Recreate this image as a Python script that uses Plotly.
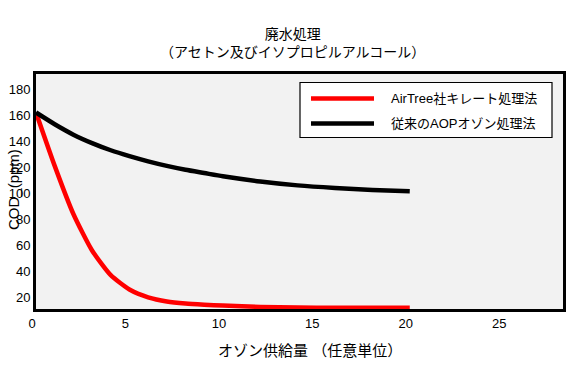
import plotly.graph_objects as go

# ---- data ----
ozone_red = [0, 1, 2, 3, 4, 5, 6, 7, 8, 9, 10, 12, 14, 16, 18, 20]
cod_red = [162, 121, 84, 56, 37, 26, 20, 16.8, 15.2, 14.3, 13.6, 12.6, 12.1, 12, 12, 12]

ozone_black = [0, 1, 2, 3, 4, 5, 6, 7, 8, 9, 10, 12, 14, 16, 18, 20]
cod_black = [162, 153, 145, 138.5, 133, 128.5, 124.5, 121, 118, 115.5, 113, 109, 106, 104, 102.5, 101.5]

name_red = "AirTree社キレート処理法"
name_black = "従来のAOPオゾン処理法"

x_ticks = [0, 5, 10, 15, 20, 25]
y_ticks = [20, 40, 60, 80, 100, 120, 140, 160, 180]

FONT = "Liberation Sans, Arial, Noto Sans CJK JP, sans-serif"

fig = go.Figure()
fig.add_trace(go.Scatter(x=ozone_red, y=cod_red, mode="lines", name=name_red,
                         line=dict(color="#ff0000", width=4.5, shape="spline", smoothing=0.6),
                         showlegend=False))
fig.add_trace(go.Scatter(x=ozone_black, y=cod_black, mode="lines", name=name_black,
                         line=dict(color="#000000", width=4.5, shape="spline", smoothing=0.6),
                         showlegend=False))

W, H = 577, 379
ml, mr, mt, mb = 36, 14, 74, 70
pw, ph = W - ml - mr, H - mt - mb

def px(x):
    return (x - ml) / pw

def py(y):
    return 1 - (y - mt) / ph

shapes = []
annotations = []

# legend box (custom, to match the long line samples)
shapes.append(dict(type="rect", xref="paper", yref="paper",
                   x0=px(300), x1=px(552), y0=py(137.5), y1=py(82.5),
                   line=dict(color="black", width=1.2), fillcolor="white", layer="above"))
for yy, col, nm in [(98.5, "#ff0000", name_red), (123.5, "#000000", name_black)]:
    shapes.append(dict(type="line", xref="paper", yref="paper",
                       x0=px(311), x1=px(374), y0=py(yy), y1=py(yy),
                       line=dict(color=col, width=4.5), layer="above"))
    annotations.append(dict(text=nm, xref="paper", yref="paper", x=px(389), y=py(yy),
                            xanchor="left", yanchor="middle", showarrow=False,
                            font=dict(size=13, color="black", family=FONT)))

# title
annotations.append(dict(text="廃水処理<br>（アセトン及びイソプロピルアルコール）",
                        xref="paper", yref="paper", x=px(292), y=py(43),
                        xanchor="center", yanchor="middle", showarrow=False,
                        font=dict(size=14, color="black", family=FONT)))
# axis titles
annotations.append(dict(text="オゾン供給量 （任意単位）", xref="paper", yref="paper",
                        x=px(310), y=py(350), xanchor="center", yanchor="middle",
                        showarrow=False, font=dict(size=15, color="black", family=FONT)))
annotations.append(dict(text="COD_(ppm)", xref="paper", yref="paper",
                        x=px(13), y=py(190), xanchor="center", yanchor="middle",
                        textangle=-90, showarrow=False,
                        font=dict(size=15, color="black", family=FONT)))

fig.update_layout(
    width=W, height=H,
    margin=dict(l=ml, r=mr, t=mt, b=mb, autoexpand=False),
    paper_bgcolor="white", plot_bgcolor="#f2f2f2",
    font=dict(family=FONT, size=13, color="black"),
    shapes=shapes, annotations=annotations, showlegend=False,
)
fig.update_xaxes(range=[0, 28.2], tickvals=x_ticks, ticktext=[str(v) for v in x_ticks],
                 showgrid=False, zeroline=False, showline=True, mirror=True,
                 linecolor="black", linewidth=3, ticks="", tickfont=dict(size=13),
                 ticklabelshift=-4)
fig.update_yaxes(range=[11, 191.6], tickvals=y_ticks, ticktext=[str(v) for v in y_ticks],
                 showgrid=False, zeroline=False, showline=True, mirror=True,
                 linecolor="black", linewidth=3, ticks="", tickfont=dict(size=13))

fig.write_html("out.html",
               config={"displayModeBar": False, "staticPlot": True},
               post_script="document.body.style.margin='0';document.body.style.overflow='hidden';")
